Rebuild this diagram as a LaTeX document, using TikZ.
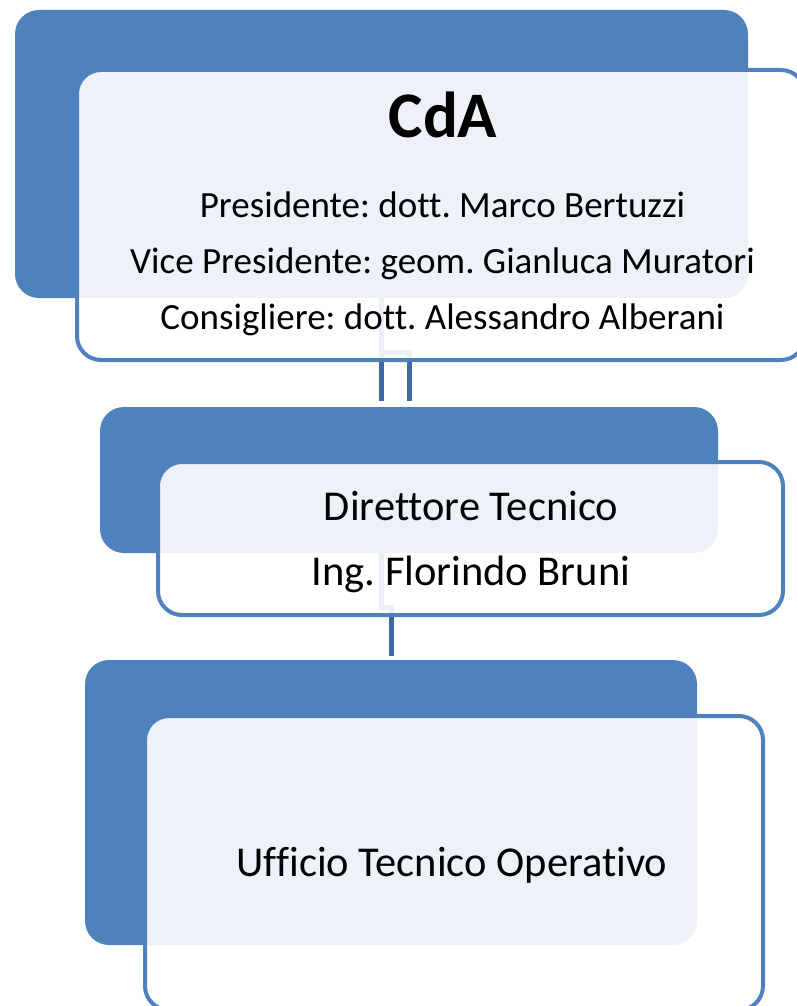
\documentclass[tikz,border=0pt]{standalone}
\usepackage{fontspec}
\setmainfont{Carlito}[Ligatures=NoCommon]
\frenchspacing
\usetikzlibrary{backgrounds}
\definecolor{sablue}{HTML}{4F81BD}
\definecolor{salink}{HTML}{3D6AA2}
\begin{document}
\begin{tikzpicture}[x=1pt, y=-1pt,
    backbox/.style={rectangle, rounded corners=24pt, fill=sablue, inner sep=0pt},
    frontbox/.style={rectangle, rounded corners=24pt, draw=sablue, line width=4pt, fill=white, fill opacity=0.9, inner sep=0pt},
    linkline/.style={draw=salink, line width=5pt},
    boxtext/.style={anchor=base, inner sep=0pt, font=\fontsize{37}{44}\selectfont}]
    \useasboundingbox (0,0) rectangle (797,1006);
    % Boxes
    \node[backbox, minimum width=733pt, minimum height=288pt] (cdaback) at (381.5,154) {};
    \node[frontbox, minimum width=728pt, minimum height=290pt] (cda) at (441,215) {};
    \node[backbox, minimum width=618pt, minimum height=146pt] (dtback) at (409,480) {};
    \node[frontbox, minimum width=625pt, minimum height=153pt] (dt) at (470.5,538.5) {};
    \node[backbox, minimum width=612pt, minimum height=285pt] (uffback) at (391,802.5) {};
    \node[frontbox, minimum width=618pt, minimum height=294pt] (uff) at (454,863) {};

    % Texts
    \node[boxtext, font=\fontsize{65}{72}\selectfont\bfseries] (cdatitle) at (443,137) {CdA};
    \node[boxtext] (pres) at (442.5,217) {Presidente: dott. Marco Bertuzzi};
    \node[boxtext] (vice) at (442.5,273) {Vice Presidente: geom. Gianluca Muratori};
    \node[boxtext] (cons) at (442.5,329) {Consigliere: dott. Alessandro Alberani};
    \node[boxtext, font=\fontsize{42.5}{50}\selectfont] (dtrole) at (471,520) {Direttore Tecnico};
    \node[boxtext, font=\fontsize{42.5}{50}\selectfont] (dtname) at (471,585) {Ing. Florindo Bruni};
    \node[boxtext, font=\fontsize{42.5}{50}\selectfont] (uffname) at (452,876) {Ufficio Tecnico Operativo};

    % Connectors
    \begin{scope}[on background layer]
        \draw[linkline, shorten >=6pt] (cdaback.south) -- (cdaback.south |- dtback.north);
        \draw[linkline, shorten >=6pt] (cdaback.south) -- ++(0,54) -| (dtback.north);
        \draw[linkline, shorten >=4pt] (dtback.south -| cdaback.south) -- ++(0,54) -| (uffback.north);
    \end{scope}
\end{tikzpicture}
\end{document}
